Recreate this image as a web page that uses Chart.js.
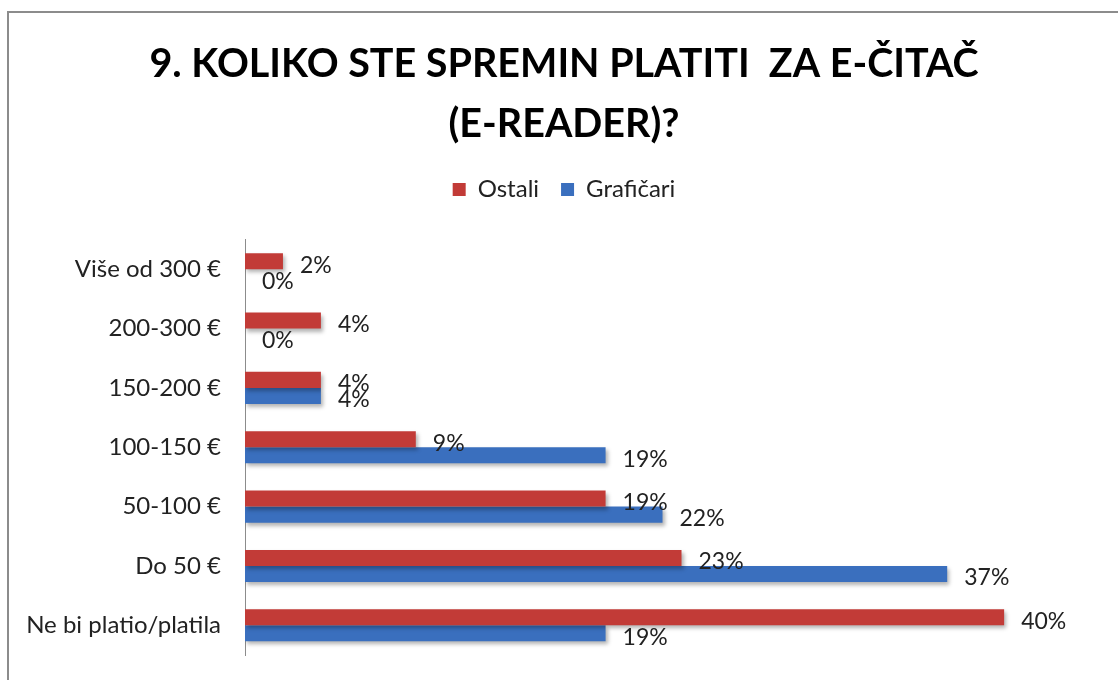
<!DOCTYPE html>
<html>
<head>
<meta charset="utf-8">
<script src="https://cdn.jsdelivr.net/npm/chart.js@4"></script>
<style>
    html, body { margin: 0; padding: 0; background: #fff; }
    #wrap { width: 1118px; height: 680px; position: relative; }
</style>
</head>
<body>
<div id="wrap"><canvas id="chart"></canvas></div>
<script>
var categories = ["Više od 300 €", "200-300 €", "150-200 €", "100-150 €", "50-100 €", "Do 50 €", "Ne bi platio/platila"];
var ostali = [2, 4, 4, 9, 19, 23, 40];
var graficari = [0, 0, 4, 19, 22, 37, 19];
var titleLines = ["9. KOLIKO STE SPREMIN PLATITI  ZA E-ČITAČ", "(E-READER)?"];

var FONT = "Lato, 'Open Sans', sans-serif";

// gray frame on top and left, like the exported slide
var framePlugin = {
    id: "frame",
    beforeDraw: function (chart) {
        var ctx = chart.ctx;
        ctx.save();
        ctx.strokeStyle = "#8c8c8c";
        ctx.lineWidth = 2;
        ctx.beginPath();
        ctx.moveTo(8, 680);
        ctx.lineTo(8, 12);
        ctx.lineTo(1118, 12);
        ctx.stroke();
        ctx.restore();
    },
};

// extra space under the legend
var legendGap = {
    id: "legendGap",
    beforeInit: function (chart) {
        var fit = chart.legend.fit;
        chart.legend.fit = function () {
            fit.bind(chart.legend)();
            this.height += 28;
        };
    },
};

// soft shadow under the bars + value labels right of each bar
var valueLabels = {
    id: "valueLabels",
    beforeDatasetsDraw: function (chart) {
        var ctx = chart.ctx;
        ctx.save();
        ctx.shadowColor = "rgba(0,0,0,0.3)";
        ctx.shadowBlur = 4;
        ctx.shadowOffsetX = 2;
        ctx.shadowOffsetY = 3;
    },
    afterDatasetsDraw: function (chart) {
        var ctx = chart.ctx;
        ctx.restore();
        ctx.save();
        ctx.font = "23px " + FONT;
        ctx.fillStyle = "#222";
        ctx.textAlign = "left";
        ctx.textBaseline = "middle";
        chart.data.datasets.forEach(function (ds, i) {
            var meta = chart.getDatasetMeta(i);
            meta.data.forEach(function (bar, j) {
                ctx.fillText(ds.data[j] + "%", bar.x + 17, bar.y + 4);
            });
        });
        ctx.restore();
    },
};

var ctx = document.getElementById("chart").getContext("2d");

var chartData = {
    labels: categories,
    datasets: [
        {
            label: "Ostali",
            data: ostali,
            backgroundColor: "#c23b37",
            borderWidth: 0,
        },
        {
            label: "Grafičari",
            data: graficari,
            backgroundColor: "#3a6fbe",
            borderWidth: 0,
        },
    ],
};

var chartOptions = {
    indexAxis: "y",
    responsive: true,
    maintainAspectRatio: false,
    animation: false,
    layout: {
        padding: { left: 10, right: 0, top: 0, bottom: 25 },
    },
    datasets: {
        bar: {
            categoryPercentage: 0.54,
            barPercentage: 1.0,
        },
    },
    plugins: {
        title: {
            display: true,
            text: titleLines,
            color: "#000",
            font: { family: FONT, size: 39.5, weight: "bold", lineHeight: 1.5 },
            padding: { top: 35, bottom: 2 },
        },
        legend: {
            display: true,
            labels: {
                color: "#222",
                font: { family: FONT, size: 24 },
                boxWidth: 13,
                boxHeight: 13,
                padding: 22,
            },
        },
        tooltip: { enabled: false },
    },
    scales: {
        x: {
            display: false,
            min: 0,
            max: 46,
        },
        y: {
            afterFit: function (scale) {
                scale.width = 235;
                scale.paddingTop = 0;
                scale.paddingBottom = 0;
            },
            grid: { display: false, drawTicks: false },
            border: { display: true, color: "#8c8c8c", width: 1 },
            ticks: {
                color: "#222",
                font: { family: FONT, size: 24 },
                padding: 24,
            },
        },
    },
};

new Chart(ctx, {
    type: "bar",
    data: chartData,
    options: chartOptions,
    plugins: [framePlugin, legendGap, valueLabels],
});
</script>
</body>
</html>
